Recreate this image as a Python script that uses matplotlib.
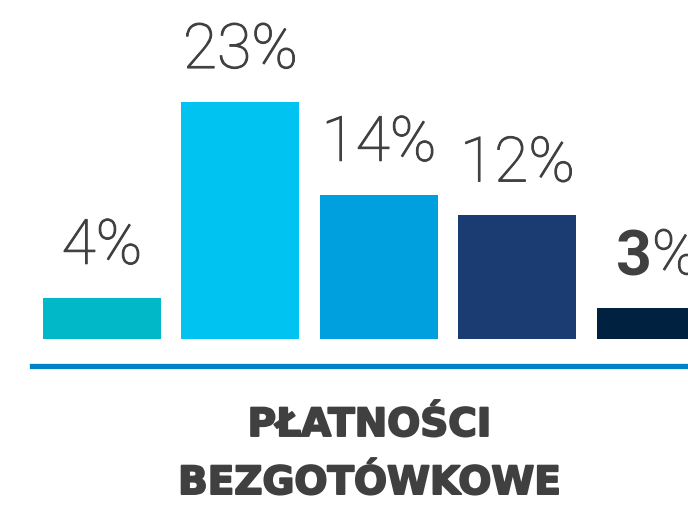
import matplotlib.pyplot as plt
import matplotlib.patheffects as pe
import numpy as np

# data
values = [4, 23, 14, 12, 3]
labels = ['4%', '23%', '14%', '12%', '3%']
colors = ['#00B8C8', '#00C3F2', '#009FDD', '#1B3C73', '#00213F']
titleLines = ['PŁATNOŚCI', 'BEZGOTÓWKOWE']

textGray = '#404040'
thin = [pe.withStroke(linewidth=0.7, foreground=textGray)]
thick = [pe.withStroke(linewidth=1.4, foreground=textGray)]

fig = plt.figure(figsize=(6.88, 5.06), dpi=100)
ax = fig.add_axes([0, 0, 1, 1])
ax.set_axis_off()

x = np.arange(len(values))
ax.bar(x, values, width=0.852, color=colors, align='center')

ax.set_xlim(-0.736, 4.231)
ax.set_ylim(-16.1, 33.0)

# blue baseline under the bars
ax.axhline(-2.57, xmin=0.047, xmax=1.0, color='#0082C8', linewidth=3.8)

# value labels
for i, (v, lab) in enumerate(zip(values, labels)):
	if i < len(values) - 1:
		ax.text(x[i], v + 3.3, lab, ha='center', va='baseline', fontsize=45,
				fontfamily='Roboto', fontweight='light', color=textGray, path_effects=thin)
	else:
		# last one: bold number, light percent sign
		t = ax.text(x[i] - 0.03, v + 3.3, lab[:-1], ha='right', va='baseline', fontsize=45,
					fontfamily='Roboto', fontweight='bold', color=textGray)
		ax.annotate('%', xy=(1, 0), xycoords=t, ha='left', va='bottom', fontsize=45,
					fontfamily='Roboto', fontweight='light', color=textGray,
					annotation_clip=False, path_effects=thin)

# category title, two lines
for yFrac, line in zip([0.1364, 0.0217], titleLines):
	ax.text(0.537, yFrac, line, transform=ax.transAxes, ha='center', va='baseline',
			fontsize=28, fontfamily='DejaVu Sans', fontweight='bold', color=textGray,
			path_effects=thick)

fig.savefig('out.png', dpi=100)
